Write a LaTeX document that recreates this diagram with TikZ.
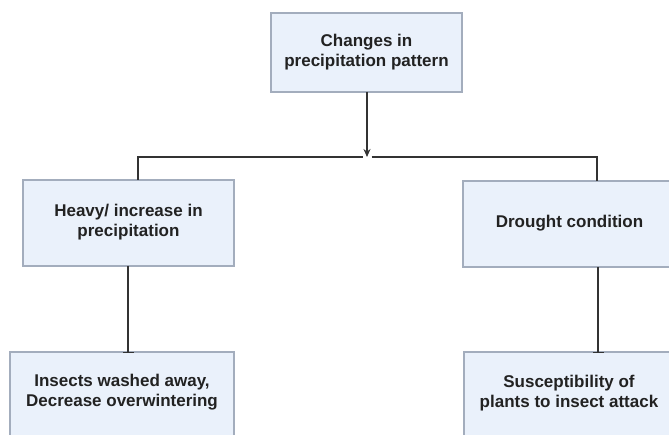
\documentclass[tikz,border=0pt]{standalone}
\usepackage{fontspec}
\setmainfont{Liberation Sans}
\usetikzlibrary{arrows.meta}
\definecolor{boxfill}{HTML}{EAF1FB}
\definecolor{boxline}{HTML}{A3ADBD}
\definecolor{inkline}{HTML}{333333}
\definecolor{txt}{HTML}{222222}
\tikzset{
  box/.style={draw=boxline, line width=1.4pt, fill=boxfill},
  lbl/.style={align=center, text=txt, font=\bfseries\fontsize{17}{20}\selectfont, inner sep=0pt},
  link/.style={draw=inkline, line width=1.3pt},
  inhib/.style={link, -{Bar[width=11pt,line width=1.3pt]}},
  arr/.style={link, -{Stealth[length=8pt,width=7pt]}}
}
\begin{document}
\begin{tikzpicture}[x=1pt,y=-1pt]
\useasboundingbox (0,0) rectangle (669,435);
\clip (0,0) rectangle (669,435);
\fill[white] (0,0) rectangle (669,435);
% boxes
\draw[box] (271,13) rectangle (462,92);
\node[lbl] (top) at (366.5,52.5) {Changes in\\precipitation pattern};
\coordinate (topS) at (367,92);
\draw[box] (23,180) rectangle (234,266);
\node[lbl] (heavy) at (128.5,222.5) {Heavy/ increase in\\precipitation};
\draw[box] (463,181) rectangle (676,267);
\node[lbl] (drought) at (569.5,223) {Drought condition};
\draw[box] (10,352) rectangle (234,450);
\node[lbl] (insects) at (122,392.5) {Insects washed away,\\Decrease overwintering};
\draw[box] (464,352) rectangle (676,450);
\node[lbl] (suscept) at (569,393.5) {Susceptibility of\\plants to insect attack};
% connectors
\coordinate (junc) at (367,157);
\coordinate (jl) at (362.5,157);
\coordinate (jr) at (371.5,157);
\coordinate (lcorner) at (138,157);
\coordinate (rcorner) at (597,157);
\coordinate (heavyN) at (138,180);
\coordinate (droughtN) at (597,181);
\coordinate (heavyS) at (128,266);
\coordinate (insectsN) at (128,353);
\coordinate (droughtS) at (598,267);
\coordinate (susceptN) at (598,353);
\draw[arr] (topS) -- (junc);
\draw[link] (jl) -- (lcorner) -- (heavyN);
\draw[link] (jr) -- (rcorner) -- (droughtN);
\draw[inhib] (heavyS) -- (insectsN);
\draw[inhib] (droughtS) -- (susceptN);
\end{tikzpicture}
\end{document}
